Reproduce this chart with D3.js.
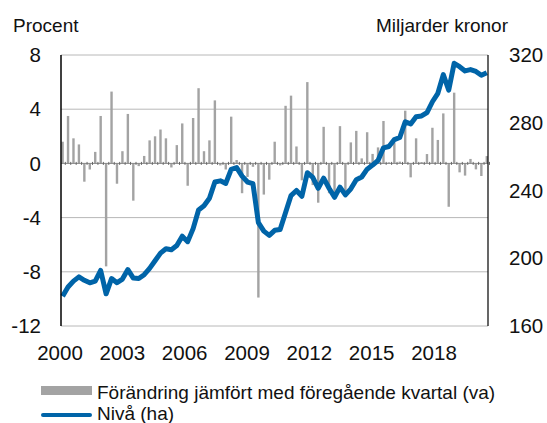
<html>
	<head>
		<meta content="text/html;charset=utf-8" http-equiv="Content-Type">
		<script src="https://d3js.org/d3.v7.min.js"></script>
		<style>
			body { margin: 0; background: white; }
			text { font-family: "Liberation Sans", Arial, sans-serif; fill: #111; }
		</style>
	</head>
	<body>
		<svg id="page"></svg>
		<script>

		// quarterly change in percent (left axis), 2000Q1 - 2019Q3
		var change = [1.6, 3.5, 1.85, 1.4, -1.35, -0.45, 0.85, 3.5,
			-7.6, 5.3, -1.5, 0.9, 3.65, -2.75, -0.2, 0.55,
			1.7, 2.0, 2.5, 1.85, -0.3, 1.35, 2.95, -1.65,
			3.35, 5.55, 0.9, 1.7, 4.65, -0.15, -0.45, 3.45,
			0.25, -2.2, -1.0, -0.25, -9.9, -2.3, -1.2, 1.6,
			-0.15, 4.25, 5.0, 1.25, -1.25, 6.0, -1.6, -2.9,
			2.7, -2.2, -2.6, 2.75, -2.3, 1.55, 2.4, 0.37,
			2.3, 0.7, 1.18, 3.13, 0.08, 1.5, 0.13, 3.89,
			-1.03, 1.85, 0.1, 0.69, 2.63, 1.73, 3.69, -3.2,
			5.22, -0.66, -0.9, 0.33, -0.44, -0.93, 0.54];

		// level in billion kronor (right axis)
		var level = [177.5, 183, 186.5, 189, 187, 185.5, 186.5, 192.8,
			179, 188, 185.5, 187.7, 193.3, 188.3, 188, 190.3,
			194, 198.5, 203, 205.6, 205, 207.5, 213, 209.8,
			217.5, 228.5, 231, 235.4, 245, 245.7, 244.2, 252.5,
			253.5, 248.5, 245, 244, 221, 216, 213.5, 216.5,
			217, 227, 237, 240, 236.6, 250.5, 247.7, 241.3,
			247.3, 241.3, 236, 242, 237.4, 241, 246.4, 248,
			252.6, 255, 257.7, 265.2, 266, 270, 271.3, 280.6,
			279.3, 283.6, 284, 286, 292.4, 297.4, 308.4, 299.3,
			315.1, 313.1, 310.6, 311.4, 310.3, 308, 309.5];

		var quarters = change.map(function(d, i){
			return (2000 + Math.floor(i / 4)) + "Q" + (i % 4 + 1);
		});

		var leftTicks = [8, 4, 0, -4, -8, -12];
		var rightTicks = [320, 280, 240, 200, 160];
		var yearTicks = [2000, 2003, 2006, 2009, 2012, 2015, 2018];

		var legendLabels = ["Förändring jämfört med föregående kvartal (va)", "Nivå (ha)"];

		var barColor = "#a3a3a3";
		var lineColor = "#0064a8";
		var gridColor = "#b8b8b8";

		// svg canvas
		var svg = d3.select("#page").attr("width", 547).attr("height", 423);

		var plotLeft = 61, plotRight = 488, plotTop = 55, plotBottom = 326;

		var x = d3.scalePoint().domain(quarters).range([62.6, 486.8]);
		var yLeft = d3.scaleLinear().domain([-12, 8]).range([plotBottom, plotTop]);
		var yRight = d3.scaleLinear().domain([160, 320]).range([plotBottom, plotTop]);
		var xYear = d3.scaleLinear().domain([2000, 2020.6]).range([plotLeft - 1, plotRight]);

		// gridlines
		svg.append("g").selectAll("line")
			.data(leftTicks.filter(function(d){ return d !== 0; }))
			.enter().append("line")
			.attr("x1", plotLeft).attr("x2", plotRight)
			.attr("y1", function(d){ return yLeft(d); })
			.attr("y2", function(d){ return yLeft(d); })
			.attr("stroke", gridColor)
			.attr("stroke-width", 1);

		// bars
		svg.append("g").selectAll("rect")
			.data(change)
			.enter().append("rect")
			.attr("x", function(d, i){ return x(quarters[i]) - 1.2; })
			.attr("width", 2.4)
			.attr("y", function(d){ return yLeft(Math.max(0, d)); })
			.attr("height", function(d){ return Math.abs(yLeft(d) - yLeft(0)); })
			.attr("fill", barColor);

		// zero line with quarter ticks
		svg.append("line")
			.attr("x1", plotLeft).attr("x2", plotRight)
			.attr("y1", yLeft(0)).attr("y2", yLeft(0))
			.attr("stroke", "#888").attr("stroke-width", 1);
		svg.append("g").selectAll("line")
			.data(quarters)
			.enter().append("line")
			.attr("x1", function(d){ return x(d) + 2.7; })
			.attr("x2", function(d){ return x(d) + 2.7; })
			.attr("y1", yLeft(0) - 1.5).attr("y2", yLeft(0) + 1.5)
			.attr("stroke", "#666").attr("stroke-width", 1);

		// level line
		var line = d3.line()
			.x(function(d, i){ return x(quarters[i]); })
			.y(function(d){ return yRight(d); });
		svg.append("path")
			.datum(level)
			.attr("d", line)
			.attr("fill", "none")
			.attr("stroke", lineColor)
			.attr("stroke-width", 5)
			.attr("stroke-linejoin", "round");

		// axis frame
		svg.append("line").attr("x1", plotLeft).attr("x2", plotLeft).attr("y1", plotTop).attr("y2", plotBottom)
			.attr("stroke", "#000").attr("stroke-width", 1.5);
		svg.append("line").attr("x1", plotRight).attr("x2", plotRight).attr("y1", plotTop).attr("y2", plotBottom)
			.attr("stroke", "#000").attr("stroke-width", 1.2);

		// left tick labels
		svg.append("g").selectAll("text")
			.data(leftTicks)
			.enter().append("text")
			.attr("x", 41)
			.attr("y", function(d){ return yLeft(d); })
			.attr("dy", "0.35em")
			.style("font-size", "20.5px")
			.style("text-anchor", "end")
			.text(function(d){ return d; });

		// right tick labels
		svg.append("g").selectAll("text")
			.data(rightTicks)
			.enter().append("text")
			.attr("x", 509)
			.attr("y", function(d){ return yRight(d); })
			.attr("dy", "0.35em")
			.style("font-size", "20.5px")
			.text(function(d){ return d; });

		// year labels
		svg.append("g").selectAll("text")
			.data(yearTicks)
			.enter().append("text")
			.attr("x", function(d){ return xYear(d); })
			.attr("y", 360)
			.style("font-size", "20.5px")
			.style("text-anchor", "middle")
			.text(function(d){ return d; });

		// axis titles
		svg.append("text").attr("x", 13).attr("y", 32)
			.style("font-size", "19px").text("Procent");
		svg.append("text").attr("x", 508).attr("y", 32)
			.style("font-size", "19px").style("text-anchor", "end").text("Miljarder kronor");

		// legend
		svg.append("rect").attr("x", 41).attr("y", 386).attr("width", 51).attr("height", 9)
			.attr("fill", barColor);
		svg.append("text").attr("x", 97).attr("y", 399)
			.style("font-size", "19px").text(legendLabels[0]);
		svg.append("line").attr("x1", 43).attr("x2", 90).attr("y1", 415).attr("y2", 415)
			.attr("stroke", lineColor).attr("stroke-width", 4).attr("stroke-linecap", "round");
		svg.append("text").attr("x", 97).attr("y", 420)
			.style("font-size", "19px").text(legendLabels[1]);

		</script>
	</body>
</html>
